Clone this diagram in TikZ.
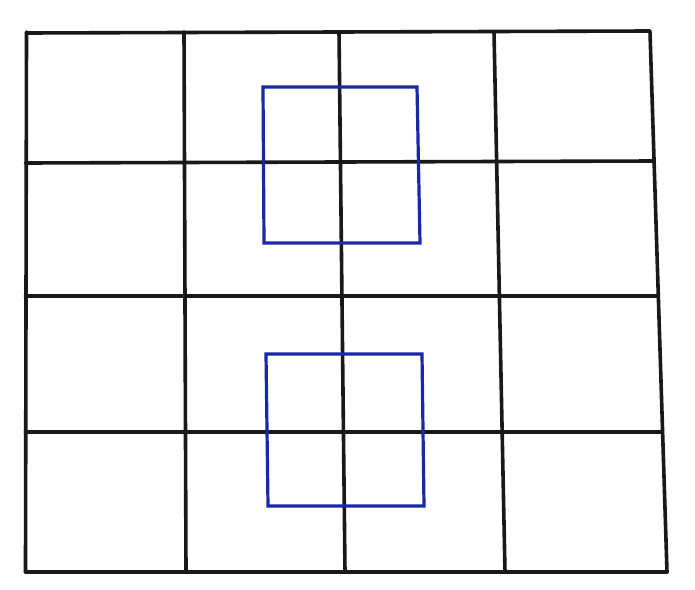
\documentclass[tikz,border=0pt]{standalone}
\definecolor{gridblue}{RGB}{25,40,170}
\begin{document}
\begin{tikzpicture}[x=1pt,y=-1pt,
  gridline/.style={draw=black!90,line width=3.6pt,line cap=round},
  bluebox/.style={draw=gridblue,line width=3.2pt,line join=miter}]
\useasboundingbox (0,0) rectangle (695,589);
\fill[white] (0,0) rectangle (695,589);
% vertical lines (top x, bottom x)
\foreach \a/\b in {26.5/25.5, 184/186, 339/345, 494/505, 650/667}
  \draw[gridline] (\a,32) -- (\b,572);
% horizontal lines
\draw[gridline] (26.5,33) -- (650,31);
\draw[gridline] (25.5,163) -- (654,161);
\draw[gridline] (25.5,296) -- (658,296);
\draw[gridline] (25.5,432) -- (662,432);
\draw[gridline] (25.5,572) -- (667,572);
% blue squares
\draw[bluebox] (263,87) -- (417,87) -- (420,243) -- (264,243) -- cycle;
\draw[bluebox] (266,354) -- (422,354) -- (424,506) -- (268,506) -- cycle;
\end{tikzpicture}
\end{document}
